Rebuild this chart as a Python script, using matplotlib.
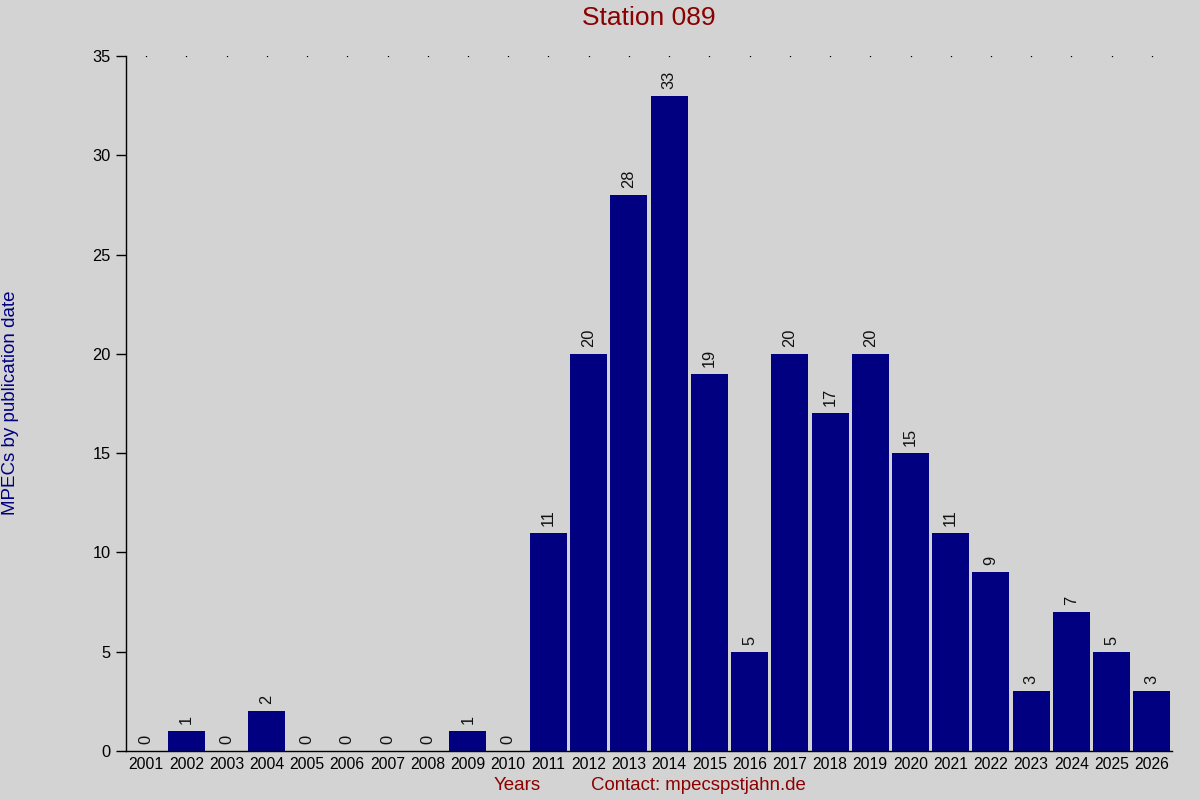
import matplotlib.pyplot as plt

# Daten
years = [str(y) for y in range(2001, 2027)]
mpecs = [0, 1, 0, 2, 0, 0, 0, 0, 1, 0, 11, 20, 28, 33, 19, 5, 20, 17, 20, 15, 11, 9, 3, 7, 5, 3]
y_ticks = [0, 5, 10, 15, 20, 25, 30, 35]

plt.rcParams['font.family'] = ['Liberation Sans', 'DejaVu Sans']

bg = '#d3d3d3'
fig = plt.figure(figsize=(12, 8), dpi=100, facecolor=bg)
ax = fig.add_axes([126 / 1200, 49 / 800, 1046 / 1200, 695 / 800], facecolor=bg)

x = list(range(len(years)))
ax.bar(x, mpecs, width=0.92, color='#000080')

# Werte ueber den Balken
for xi, v in zip(x, mpecs):
    ax.annotate(str(v), (xi, v), xytext=(0, 5), textcoords='offset points',
                rotation=90, ha='center', va='bottom', fontsize=11.8, color='#111111')

# Punkte oben
ax.plot(x, [y_ticks[-1]] * len(x), linestyle='none', marker='s', markersize=0.9,
        markeredgewidth=0, color='black')

ax.set_xlim(-0.5, len(years) - 0.5)
ax.set_ylim(0, 35)
ax.set_yticks(y_ticks)
ax.set_xticks(x)
ax.set_xticklabels(years, fontsize=11.3)
ax.tick_params(axis='x', length=0, pad=4)
ax.tick_params(axis='y', length=7, width=1, labelsize=11.8, pad=4)
for s in ['top', 'right']:
    ax.spines[s].set_visible(False)
ax.spines['left'].set_linewidth(1)
ax.spines['bottom'].set_linewidth(1)

fig.text(649 / 1200, 1 - 18 / 800, 'Station 089', ha='center', va='center',
         fontsize=19, color='#8b0000')
fig.text(11 / 1200, 1 - 403 / 800, 'MPECs by publication date', rotation=90,
         ha='center', va='center', fontsize=13.5, color='#000080')
fig.text(517 / 1200, 1 - 786 / 800, 'Years', ha='center', va='center',
         fontsize=13.5, color='#8b0000')
fig.text(698 / 1200, 1 - 786 / 800, 'Contact: mpecspstjahn.de', ha='center',
         va='center', fontsize=13.4, color='#8b0000')

fig.savefig('out.png', dpi=100, facecolor=bg)
